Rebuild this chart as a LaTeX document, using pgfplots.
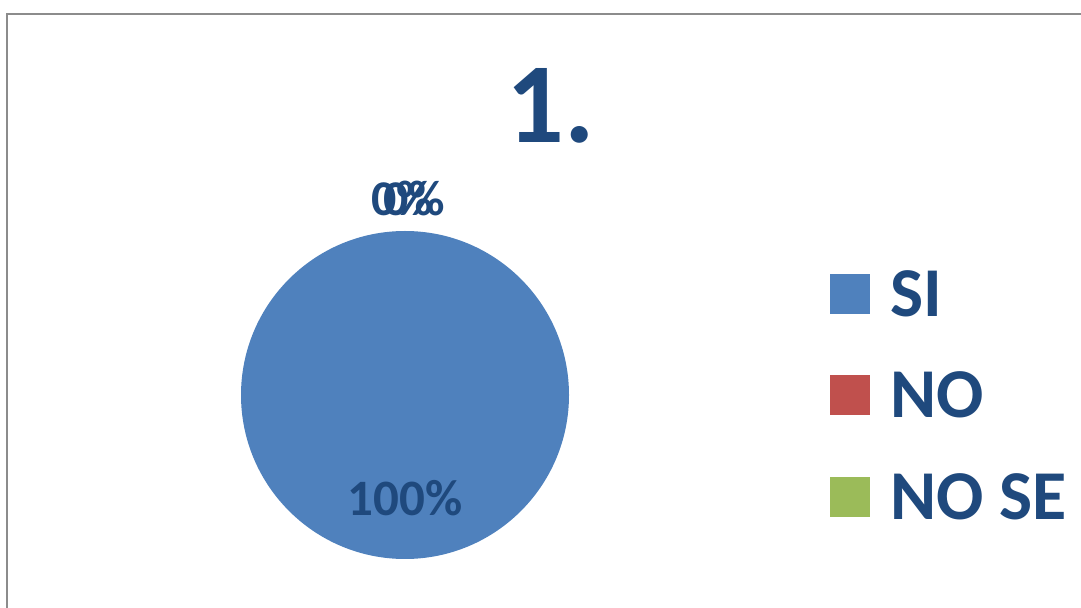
\documentclass[border=0pt]{standalone}
\usepackage{fontspec}
\setmainfont{Carlito}
\usepackage{pgfplots}
\usepackage{pgfplotstable}
\pgfplotsset{compat=1.18}

\definecolor{siblue}{HTML}{4F81BD}
\definecolor{nored}{HTML}{C0504D}
\definecolor{nsgreen}{HTML}{9BBB59}
\definecolor{txtblue}{HTML}{1F497D}
\definecolor{frame}{HTML}{8C8C8C}

\pgfplotstableread{
name value
SI 100
NO 0
NOSE 0
}\piedata

% slice from angle #2 to #3 in colour #1, skipped when it has no size
\newcommand\slice[3]{%
  \pgfmathparse{abs(#2-#3)>0.01 ? 1 : 0}%
  \ifnum\pgfmathresult=1
    \fill[#1] (axis cs:405,395) -- ++(#2:82pt) arc[start angle=#2, end angle=#3, radius=82pt] -- cycle;
  \fi}

\begin{document}
\begin{tikzpicture}
% slice values and angles (start at 12 o'clock, clockwise)
\pgfplotstablegetelem{0}{value}\of\piedata \edef\vA{\pgfplotsretval}
\pgfplotstablegetelem{1}{value}\of\piedata \edef\vB{\pgfplotsretval}
\pgfplotstablegetelem{2}{value}\of\piedata \edef\vC{\pgfplotsretval}
\pgfmathsetmacro\tot{\vA+\vB+\vC}
\pgfmathsetmacro\aA{90}
\pgfmathsetmacro\aB{\aA-\vA/\tot*360}
\pgfmathsetmacro\aC{\aB-\vB/\tot*360}
\pgfmathsetmacro\aD{\aC-\vC/\tot*360}
\begin{axis}[
  hide axis, scale only axis,
  width=540.5pt, height=304pt,
  xmin=0, xmax=1081, ymin=0, ymax=608, y dir=reverse,
  clip=false,
]
\addplot[draw=none, mark=none, forget plot] coordinates {(0,0) (1081,608)};
% frame
\draw[frame, line width=1.1pt] (axis cs:7,610) -- (axis cs:7,14) -- (axis cs:1083,14);
% title
\node[txtblue, font=\fontsize{57}{60}\selectfont\bfseries, anchor=base] at (axis cs:551,143) {1.};
% pie
\slice{siblue}{\aA}{\aB}
\slice{nored}{\aB}{\aC}
\slice{nsgreen}{\aC}{\aD}
% data labels
\node[txtblue, font=\fontsize{25.5}{28}\selectfont\bfseries] at (axis cs:405,498) {\vA\%};
\node[txtblue, font=\fontsize{25}{28}\selectfont\bfseries] at (axis cs:402,198) {\vB\%};
\node[txtblue, font=\fontsize{25}{28}\selectfont\bfseries] at (axis cs:414,198) {\vC\%};
% legend
\fill[siblue] (axis cs:830,274) rectangle (axis cs:870,314);
\fill[nored] (axis cs:830,375) rectangle (axis cs:870,415);
\fill[nsgreen] (axis cs:830,477) rectangle (axis cs:870,517);
\node[txtblue, font=\fontsize{35}{37}\selectfont\bfseries, anchor=west, inner xsep=0pt] at (axis cs:890,294) {SI};
\node[txtblue, font=\fontsize{35}{37}\selectfont\bfseries, anchor=west, inner xsep=0pt] at (axis cs:890,395) {NO};
\node[txtblue, font=\fontsize{35}{37}\selectfont\bfseries, anchor=west, inner xsep=0pt] at (axis cs:890,497) {NO SE};
\end{axis}
\pgfresetboundingbox
\path[use as bounding box] (0,0) rectangle (540.5pt,304pt);
\end{tikzpicture}
\end{document}
